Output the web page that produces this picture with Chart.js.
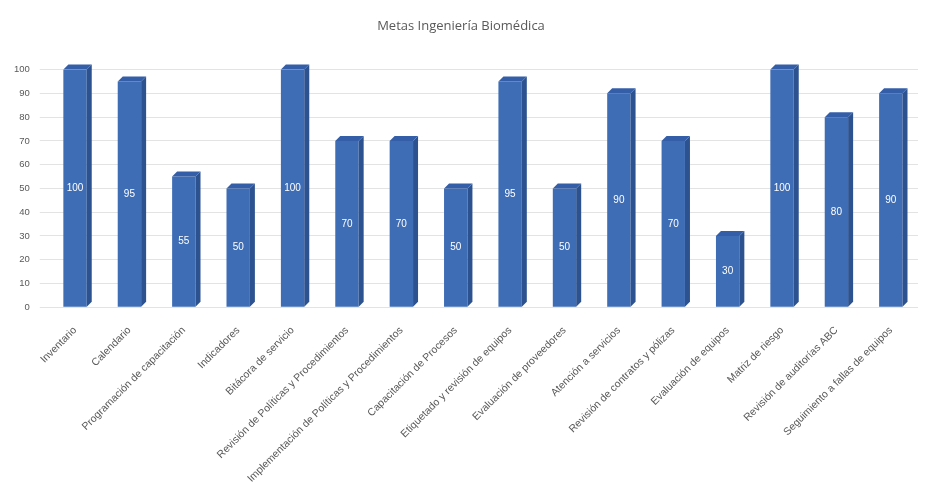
<!DOCTYPE html>
<html>
<head>
<meta charset="utf-8">
<script src="https://cdn.jsdelivr.net/npm/chart.js@4"></script>
<style>
  html, body { margin: 0; padding: 0; background: #fff; }
  #wrap { width: 926px; height: 494px; }
</style>
</head>
<body>
<div id="wrap"><canvas id="barChart" width="926" height="494"></canvas></div>
<script>
const categories = [
  'Inventario',
  'Calendario',
  'Programación de capacitación',
  'Indicadores',
  'Bitácora de servicio',
  'Revisión de Políticas y Procedimientos',
  'Implementación de Políticas y Procedimientos',
  'Capacitación de Procesos',
  'Etiquetado y revisión de equipos',
  'Evaluación de proveedores',
  'Atención a servicios',
  'Revisión de contratos y pólizas',
  'Evaluación de equipos',
  'Matriz de riesgo',
  'Revisión de auditorías ABC',
  'Seguimiento a fallas de equipos'
];
const metas = [100, 95, 55, 50, 100, 70, 70, 50, 95, 50, 90, 70, 30, 100, 80, 90];

const DEPTH = 5;

// fake the excel 3d columns: side + top faces, then the value label
const bars3d = {
  id: 'bars3d',
  afterDatasetsDraw(chart) {
    const ctx = chart.ctx;
    const meta = chart.getDatasetMeta(0);
    ctx.save();
    meta.data.forEach((bar, i) => {
      const left = bar.x - bar.width / 2;
      const right = bar.x + bar.width / 2;
      const top = bar.y;
      const base = bar.base;
      // side
      ctx.fillStyle = '#2c5290';
      ctx.beginPath();
      ctx.moveTo(right, top);
      ctx.lineTo(right + DEPTH, top - DEPTH);
      ctx.lineTo(right + DEPTH, base - DEPTH);
      ctx.lineTo(right, base);
      ctx.closePath();
      ctx.fill();
      // top
      ctx.fillStyle = '#345fa8';
      ctx.beginPath();
      ctx.moveTo(left, top);
      ctx.lineTo(left + DEPTH, top - DEPTH);
      ctx.lineTo(right + DEPTH, top - DEPTH);
      ctx.lineTo(right, top);
      ctx.closePath();
      ctx.fill();
      // label
      ctx.fillStyle = '#ffffff';
      ctx.font = '10px "Liberation Sans", sans-serif';
      ctx.textAlign = 'center';
      ctx.textBaseline = 'middle';
      ctx.fillText(String(metas[i]), bar.x, (top + base) / 2);
    });
    ctx.restore();
  }
};

new Chart(document.getElementById('barChart').getContext('2d'), {
  type: 'bar',
  data: {
    labels: categories,
    datasets: [{
      label: 'Metas',
      data: metas,
      backgroundColor: '#3e6db5',
      borderWidth: 0,
      categoryPercentage: 1,
      barPercentage: 0.43
    }]
  },
  options: {
    responsive: false,
    animation: false,
    layout: { padding: { left: 4, right: 8, top: 2, bottom: 0 } },
    plugins: {
      legend: { display: false },
      tooltip: { enabled: false },
      title: {
        display: true,
        text: 'Metas Ingeniería Biomédica',
        color: '#595959',
        font: { family: '"Open Sans", sans-serif', size: 13, weight: 'normal' },
        padding: { top: 16, bottom: 36 }
      }
    },
    scales: {
      x: {
        grid: { display: false },
        border: { display: false },
        ticks: {
          color: '#595959',
          font: { family: '"Liberation Sans", sans-serif', size: 10.5 },
          minRotation: 45,
          maxRotation: 45,
          autoSkip: false,
          padding: 9
        }
      },
      y: {
        min: 0,
        max: 100,
        grid: { color: '#e3e3e3' },
        border: { display: false },
        ticks: {
          stepSize: 10,
          color: '#595959',
          font: { family: '"Liberation Sans", sans-serif', size: 9.5 },
          padding: 10
        }
      }
    }
  },
  plugins: [bars3d]
});
</script>
</body>
</html>
